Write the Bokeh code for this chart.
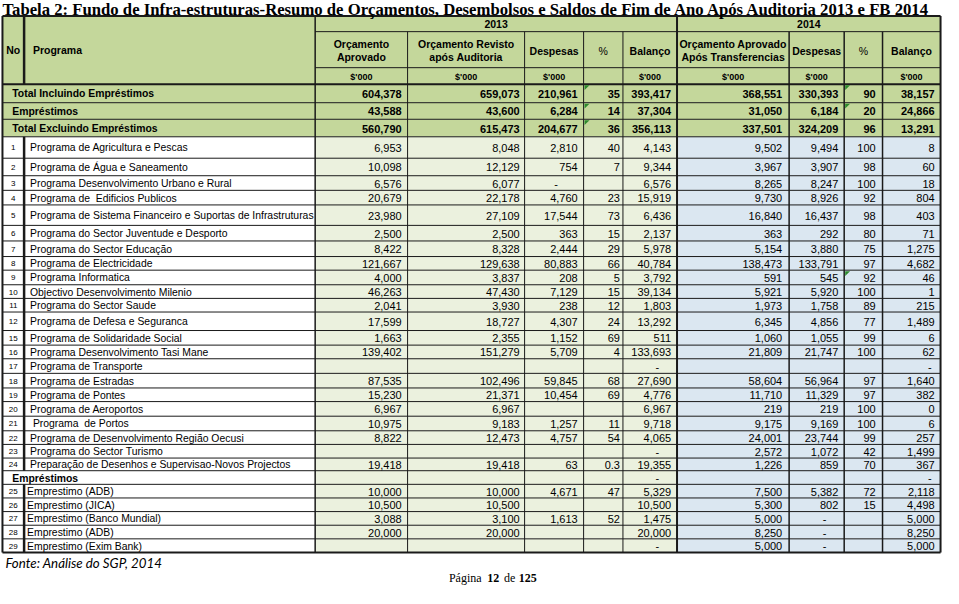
from bokeh.plotting import figure
from bokeh.models import Range1d, ColumnDataSource
from bokeh.core.properties import value
from bokeh.embed import file_html
from bokeh.resources import INLINE

# ---------------- data ----------------
title_text = ("Tabela 2: Fundo de Infra-estruturas-Resumo de Orçamentos, Desembolsos "
              "e Saldos de Fim de Ano Após Auditoria 2013 e FB 2014")
year_labels = ["2013", "2014"]
col_headers = [["Orçamento", "Aprovado"], ["Orçamento Revisto", "após Auditoria"], ["Despesas"],
               ["%"], ["Balanço"], ["Orçamento Aprovado", "Após Transferencias"], ["Despesas"],
               ["%"], ["Balanço"]]
unit_labels = ["$'000", "$'000", "$'000", "", "$'000", "$'000", "$'000", "", "$'000"]

row_kind = ["total"] * 3 + ["prog"] * 22 + ["sub"] + ["loan"] * 5
row_no = ["", "", "", "1", "2", "3", "4", "5", "6", "7", "8", "9", "10", "11", "12",
          "15", "16", "17", "18", "19", "20", "21", "22", "23", "24", "",
          "25", "26", "27", "28", "29"]
programa = ["Total Incluindo Empréstimos", "Empréstimos", "Total Excluindo Empréstimos",
            "Programa de Agricultura e Pescas", "Programa de Água e Saneamento",
            "Programa Desenvolvimento Urbano e Rural", "Programa de\u00a0 Edificios Publicos",
            "Programa de Sistema Financeiro e Suportas de Infrastruturas",
            "Programa do Sector Juventude e Desporto", "Programa do Sector Educação",
            "Programa de Electricidade", "Programa Informatica",
            "Objectivo Desenvolvimento Milenio", "Programa do Sector Saude",
            "Programa de Defesa e Seguranca", "Programa de Solidaridade Social",
            "Programa Desenvolvimento Tasi Mane", "Programa de Transporte",
            "Programa de Estradas", "Programa de Pontes", "Programa de Aeroportos",
            "\u00a0Programa\u00a0 de Portos", "Programa de Desenvolvimento Região Oecusi",
            "Programa do Sector Turismo",
            "Preparação de Desenhos e Supervisao-Novos Projectos", "Empréstimos",
            "Emprestimo (ADB)", "Emprestimo (JICA)", "Emprestimo (Banco Mundial)",
            "Emprestimo (ADB)", "Emprestimo (Exim Bank)"]
orc_aprov_2013 = ["604,378", "43,588", "560,790", "6,953", "10,098", "6,576", "20,679", "23,980",
                  "2,500", "8,422", "121,667", "4,000", "46,263", "2,041", "17,599", "1,663",
                  "139,402", "", "87,535", "15,230", "6,967", "10,975", "8,822", "", "19,418", "",
                  "10,000", "10,500", "3,088", "20,000", ""]
orc_rev_2013 = ["659,073", "43,600", "615,473", "8,048", "12,129", "6,077", "22,178", "27,109",
                "2,500", "8,328", "129,638", "3,837", "47,430", "3,930", "18,727", "2,355",
                "151,279", "", "102,496", "21,371", "6,967", "9,183", "12,473", "", "19,418", "",
                "10,000", "10,500", "3,100", "20,000", ""]
desp_2013 = ["210,961", "6,284", "204,677", "2,810", "754", "-", "4,760", "17,544", "363", "2,444",
             "80,883", "208", "7,129", "238", "4,307", "1,152", "5,709", "", "59,845", "10,454", "",
             "1,257", "4,757", "", "63", "", "4,671", "", "1,613", "", ""]
pct_2013 = ["35", "14", "36", "40", "7", "", "23", "73", "15", "29", "66", "5", "15", "12", "24",
            "69", "4", "", "68", "69", "", "11", "54", "", "0.3", "", "47", "", "52", "", ""]
bal_2013 = ["393,417", "37,304", "356,113", "4,143", "9,344", "6,576", "15,919", "6,436", "2,137",
            "5,978", "40,784", "3,792", "39,134", "1,803", "13,292", "511", "133,693", "-",
            "27,690", "4,776", "6,967", "9,718", "4,065", "-", "19,355", "-", "5,329", "10,500",
            "1,475", "20,000", "-"]
orc_aprov_2014 = ["368,551", "31,050", "337,501", "9,502", "3,967", "8,265", "9,730", "16,840",
                  "363", "5,154", "138,473", "591", "5,921", "1,973", "6,345", "1,060", "21,809", "",
                  "58,604", "11,710", "219", "9,175", "24,001", "2,572", "1,226", "", "7,500",
                  "5,300", "5,000", "8,250", "5,000"]
desp_2014 = ["330,393", "6,184", "324,209", "9,494", "3,907", "8,247", "8,926", "16,437", "292",
             "3,880", "133,791", "545", "5,920", "1,758", "4,856", "1,055", "21,747", "", "56,964",
             "11,329", "219", "9,169", "23,744", "1,072", "859", "", "5,382", "802", "-", "-", "-"]
pct_2014 = ["90", "20", "96", "100", "98", "100", "92", "98", "80", "75", "97", "92", "100", "89",
            "77", "99", "100", "", "97", "97", "100", "100", "99", "42", "70", "", "72", "15", "",
            "", ""]
bal_2014 = ["38,157", "24,866", "13,291", "8", "60", "18", "804", "403", "71", "1,275", "4,682",
            "46", "1", "215", "1,489", "6", "62", "-", "1,640", "382", "0", "6", "257", "1,499",
            "367", "-", "2,118", "4,498", "5,000", "8,250", "5,000"]
# Excel "error indicator" marks: (column index, row index)
marked_cells = [(5, 0), (9, 0), (5, 1), (9, 1), (5, 2), (9, 11)]
source_note = "Fonte: Análise do SGP, 2014"
page_note = [("Página", "normal"), ("12", "bold"), ("de", "normal"), ("125", "bold")]

value_cols = [orc_aprov_2013, orc_rev_2013, desp_2013, pct_2013, bal_2013,
              orc_aprov_2014, desp_2014, pct_2014, bal_2014]

# ---------------- layout (reference pixel grid) ----------------
W, H = 959, 604
x_edges = [2, 24, 320, 414, 533, 593, 633, 688, 802, 858, 897, 956]
row_edges = [86, 105, 122, 140, 162, 180, 195, 210, 231, 247, 263, 277, 292, 306, 320, 339,
             354, 368, 383, 398, 412, 427, 442, 456, 470, 483, 497, 511, 525, 539, 553, 567]
h_top, h_year, h_unit = 16, 32, 69
right_pad = [6, 5, 6, 3, 6, 7, 6, 7, 6]
dash_off = [20, 20, 28, 10, 20, 20, 20, 10, 11]

GREEN = "#c4d79b"
LIGHT_GREEN = "#ebf1de"
LIGHT_BLUE = "#dbe7f1"
LINE = "#1a1a1a"
FONT = "Liberation Sans"
NUM_SIZE = "11px"
NAME_SIZE = "10.4px"

p = figure(width=943, height=588, x_range=Range1d(0, W), y_range=Range1d(H, 0),
           output_backend="svg", toolbar_location=None, min_border=0,
           background_fill_color="white", border_fill_color="white")
p.axis.visible = False
p.grid.visible = False
p.outline_line_color = None

# ---- cell fills ----
ql, qr, qt, qb, qc = [], [], [], [], []
ql.append(x_edges[0]); qr.append(x_edges[-1]); qt.append(h_top); qb.append(row_edges[0]); qc.append(GREEN)
for i, kind in enumerate(row_kind):
    t, b = row_edges[i], row_edges[i + 1]
    if kind == "total":
        ql.append(x_edges[0]); qr.append(x_edges[-1]); qt.append(t); qb.append(b); qc.append(GREEN)
    else:
        ql.append(x_edges[0]); qr.append(x_edges[2]); qt.append(t); qb.append(b); qc.append("white")
        ql.append(x_edges[2]); qr.append(x_edges[7]); qt.append(t); qb.append(b); qc.append(LIGHT_GREEN)
        ql.append(x_edges[7]); qr.append(x_edges[-1]); qt.append(t); qb.append(b); qc.append(LIGHT_BLUE)
p.quad(left=ql, right=qr, top=qt, bottom=qb, fill_color=qc, line_color=None)

# ---- grid lines ----
sx0, sy0, sx1, sy1, sw = [], [], [], [], []
def seg(x0, y0, x1, y1, w):
    sx0.append(x0); sy0.append(y0); sx1.append(x1); sy1.append(y1); sw.append(w)

seg(x_edges[0], h_top, x_edges[-1], h_top, 2)
seg(x_edges[2], h_year, x_edges[-1], h_year, 1)
seg(x_edges[2], h_unit, x_edges[-1], h_unit, 1)
for k, y in enumerate(row_edges):
    seg(x_edges[0], y, x_edges[-1], y, 2 if k in (0, len(row_edges) - 1) else 1)
bottom = row_edges[-1]
seg(x_edges[0], h_top, x_edges[0], bottom, 2)
seg(x_edges[-1], h_top, x_edges[-1], bottom, 2)
seg(x_edges[2], h_top, x_edges[2], bottom, 1.5)
seg(x_edges[7], h_top, x_edges[7], bottom, 2)
for j in (3, 4, 5, 6):
    seg(x_edges[j], h_year, x_edges[j], bottom, 1)
for j in (8, 9, 10):
    seg(x_edges[j], h_year, x_edges[j], bottom, 1.5)
seg(x_edges[1], h_top, x_edges[1], row_edges[0], 2.5)
seg(x_edges[1], row_edges[3], x_edges[1], row_edges[25], 2.5)
seg(x_edges[1], row_edges[26], x_edges[1], bottom, 2.5)
p.segment(x0=sx0, y0=sy0, x1=sx1, y1=sy1, line_width=sw, line_color=LINE)

# ---- error indicator marks ----
mx, my = [], []
for (c, r) in marked_cells:
    x, y = x_edges[c] + 1, row_edges[r] + 1
    mx.append([x, x + 5, x]); my.append([y, y, y + 5])
p.patches(xs=mx, ys=my, fill_color="#2e8b2e", line_color=None)

# ---- texts ----
T = dict(x=[], y=[], text=[], align=[], size=[], style=[], font=[])
def txt(x, y, s, align="left", size=NUM_SIZE, style="normal", font=FONT):
    T["x"].append(x); T["y"].append(y); T["text"].append(s); T["align"].append(align)
    T["size"].append(size); T["style"].append(style); T["font"].append(font)

# header
hc = (h_top + row_edges[0]) / 2
txt((x_edges[0] + x_edges[1]) / 2, hc, "No", "center", "10.5px", "bold")
txt(x_edges[1] + 9, hc, "Programa", "left", "10.5px", "bold")
txt((x_edges[2] + x_edges[7]) / 2, (h_top + h_year) / 2, year_labels[0], "center", "10.5px", "bold")
txt((x_edges[7] + x_edges[-1]) / 2, (h_top + h_year) / 2, year_labels[1], "center", "10.5px", "bold")
for j, lines in enumerate(col_headers):
    cx = (x_edges[j + 2] + x_edges[j + 3]) / 2
    mid = (h_year + h_unit) / 2 + 1
    st = "normal" if lines == ["%"] else "bold"
    if len(lines) == 1:
        txt(cx, mid, lines[0], "center", "10.5px", st)
    else:
        txt(cx, mid - 7, lines[0], "center", "10.5px", st)
        txt(cx, mid + 7, lines[1], "center", "10.5px", st)
    if unit_labels[j]:
        txt(cx, (h_unit + row_edges[0]) / 2 + 1, unit_labels[j], "center", "9px", "bold")

# body
for i, kind in enumerate(row_kind):
    cy = (row_edges[i] + row_edges[i + 1]) / 2 + 0.5
    bold = "bold" if kind == "total" else "normal"
    if kind in ("total", "sub"):
        txt(x_edges[0] + 10, cy, programa[i], "left", NAME_SIZE, "bold")
    else:
        txt((x_edges[0] + x_edges[1]) / 2, cy, row_no[i], "center", "8px")
        lx = x_edges[1] + (3 if kind == "loan" else 6)
        txt(lx, cy, programa[i], "left", NAME_SIZE)
    for j, col in enumerate(value_cols):
        s = col[i]
        if not s:
            continue
        r = x_edges[j + 3]
        if s == "-":
            txt(r - dash_off[j], cy, s, "center", NUM_SIZE, bold)
        else:
            txt(r - right_pad[j], cy, s, "right", NUM_SIZE, bold)

src = ColumnDataSource(T)
p.text(x="x", y="y", text="text", source=src, text_align="align", text_baseline="middle",
       text_font_size="size", text_font_style="style", text_font="font", text_color="black")

# title & notes
p.text(x=[2], y=[9], text=[title_text], text_font=value("Liberation Serif"),
       text_font_style="bold", text_font_size="16.7px", text_baseline="middle", text_align="left")
p.text(x=[5], y=[578], text=[source_note], text_font=value("Lato"), text_font_style="italic",
       text_font_size="13.3px", text_baseline="middle", text_align="left")
px_pos = [456, 495, 512, 527]
p.text(x=px_pos, y=[593] * 4, text=[s for s, _ in page_note],
       text_font_style=[st for _, st in page_note], text_font=value("Liberation Serif"),
       text_font_size="12px", text_baseline="middle", text_align="left")

open("out.html", "w").write(file_html(p, INLINE))
